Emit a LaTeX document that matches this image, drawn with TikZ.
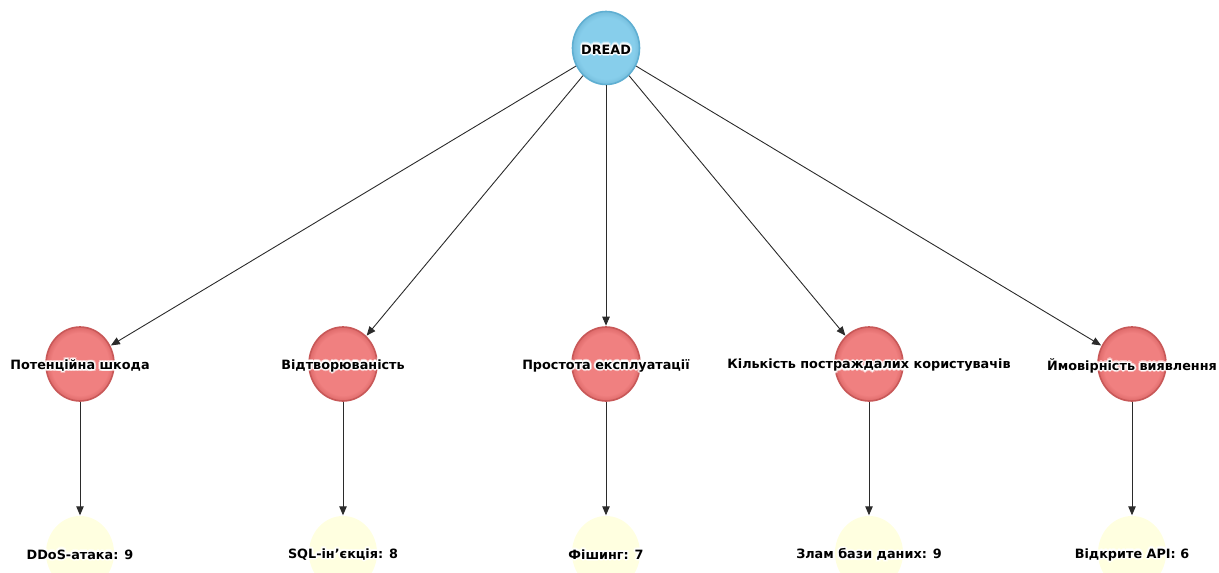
\documentclass[tikz,border=0pt]{standalone}
\usepackage{fontspec}
\setmainfont{DejaVu Sans}
\usetikzlibrary{shapes.geometric,arrows.meta}

\definecolor{rootfill}{HTML}{87CEEB}
\definecolor{rootedge}{HTML}{76BEDD}
\definecolor{rootline}{HTML}{5FAFD2}
\definecolor{catfill}{HTML}{F08080}
\definecolor{catedge}{HTML}{DE6A6A}
\definecolor{catline}{HTML}{C85858}
\definecolor{leaffill}{HTML}{FFFFE0}
\definecolor{edgecol}{HTML}{2B2B2B}

% interior slightly darker towards the rim
\pgfdeclareradialshading{rootshade}{\pgfpoint{0bp}{0bp}}{%
  color(0bp)=(rootfill); color(21bp)=(rootfill); color(25bp)=(rootedge); color(50bp)=(rootedge)}
\pgfdeclareradialshading{catshade}{\pgfpoint{0bp}{0bp}}{%
  color(0bp)=(catfill); color(21bp)=(catfill); color(25bp)=(catedge); color(50bp)=(catedge)}

\tikzset{
  bubble/.style={ellipse, minimum width=68pt, minimum height=74pt, inner sep=0pt},
  rootnode/.style={bubble, shading=rootshade, draw=rootline, line width=1.6pt},
  catnode/.style={bubble, shading=catshade, draw=catline, line width=1.6pt},
  leafnode/.style={bubble, fill=leaffill},
  lbl/.style={font=\fontsize{12.8}{15}\selectfont\bfseries, inner sep=0pt, text=black},
  halo/.style={lbl, text=white},
  link/.style={draw=edgecol, line width=0.9pt, -{Triangle[length=9pt,width=7.5pt]}, shorten >=0.5pt},
}

% text with a soft white glow behind it
\newcommand\glowlabel[2]{%
  \foreach \ang in {0,45,...,315}{%
    \node[halo, opacity=0.5] at ([shift={(\ang:2.2pt)},yshift=-1.5pt]#1) {#2};
    \node[halo] at ([shift={(\ang:1.1pt)},yshift=-1.5pt]#1) {#2};
  }%
  \node[lbl] at ([yshift=-1.5pt]#1) {#2};
}

\begin{document}
\begin{tikzpicture}[x=1pt,y=-1pt]
\useasboundingbox (0,0) rectangle (1219,573);
\clip (0,0) rectangle (1219,573);

% root
\node[rootnode, minimum width=67pt, minimum height=73pt] (root) at (606,48) {};

% categories
\node[catnode] (c1) at (80,364) {};
\node[catnode] (c2) at (343,364) {};
\node[catnode] (c3) at (606,364) {};
\node[catnode] (c4) at (869,364) {};
\node[catnode] (c5) at (1132,364) {};

% examples
\node[leafnode] (e1) at (80,553) {};
\node[leafnode] (e2) at (343,553) {};
\node[leafnode] (e3) at (606,553) {};
\node[leafnode] (e4) at (869,553) {};
\node[leafnode] (e5) at (1132,553) {};

% connectors
\foreach \i in {1,...,5}{
  \draw[link] (root) -- (c\i);
  \draw[link] (c\i) -- (e\i);
}

% labels
\glowlabel{root}{DREAD}
\glowlabel{c1}{Потенційна шкода}
\glowlabel{c2}{Відтворюваність}
\glowlabel{c3}{Простота експлуатації}
\glowlabel{c4}{Кількість постраждалих користувачів}
\glowlabel{c5}{Ймовірність виявлення}
\glowlabel{e1}{DDoS-атака: 9}
\glowlabel{e2}{SQL-ін’єкція: 8}
\glowlabel{e3}{Фішинг: 7}
\glowlabel{e4}{Злам бази даних: 9}
\glowlabel{e5}{Відкрите API: 6}
\end{tikzpicture}
\end{document}
